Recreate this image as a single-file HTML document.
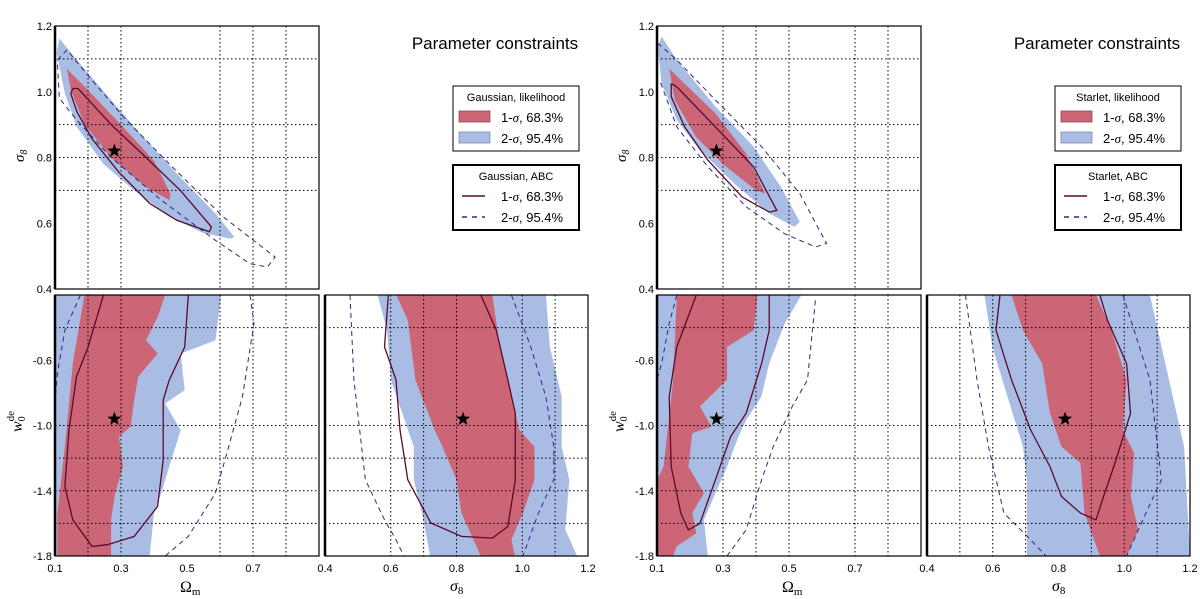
<!DOCTYPE html>
<html><head><meta charset="utf-8">
<style>
html,body{margin:0;padding:0;background:#fff;}
svg{display:block;font-family:"Liberation Sans",sans-serif;}
.tk{font-size:11px;fill:#000;}
</style></head>
<body>
<svg id="fig" width="1200" height="599" viewBox="0 0 1200 599" xmlns="http://www.w3.org/2000/svg"></svg>
<script>
// ---------- data (contours in data coordinates) ----------
// Gaussian, (Om, s8)
const gTopBlue=[[0.113,1.163],[0.166,1.097],[0.27,0.975],[0.376,0.853],[0.48,0.74],[0.586,0.63],[0.644,0.558],[0.632,0.553],[0.55,0.57],[0.446,0.62],[0.34,0.70],[0.247,0.78],[0.166,0.893],[0.13,0.995],[0.105,1.117]];
const gTopRed=[[0.136,1.07],[0.2,1.005],[0.306,0.893],[0.4,0.79],[0.45,0.69],[0.447,0.67],[0.376,0.71],[0.27,0.80],[0.19,0.90],[0.148,1.005]];
const gTopL1=[[0.154,1.01],[0.17,1.01],[0.27,0.90],[0.376,0.8],[0.48,0.70],[0.574,0.589],[0.568,0.574],[0.469,0.609],[0.387,0.66],[0.294,0.755],[0.212,0.857],[0.166,0.94],[0.148,0.994],[0.154,1.01]];
const gTopL2=[[0.107,1.097],[0.136,1.127],[0.212,1.035],[0.317,0.913],[0.457,0.77],[0.609,0.62],[0.767,0.497],[0.744,0.467],[0.691,0.477],[0.586,0.548],[0.422,0.67],[0.27,0.80],[0.166,0.914],[0.113,0.98],[0.107,1.097]];
// Gaussian, (Om, w)
const gBLBlue=[[0.1,-0.2],[0.604,-0.2],[0.586,-0.477],[0.481,-0.559],[0.493,-0.783],[0.434,-0.865],[0.481,-1.028],[0.446,-1.252],[0.422,-1.415],[0.4,-1.537],[0.387,-1.8],[0.1,-1.8]];
const gBLRed=[[0.189,-0.2],[0.434,-0.2],[0.411,-0.335],[0.376,-0.477],[0.411,-0.559],[0.352,-0.7],[0.34,-0.844],[0.329,-1.007],[0.294,-1.068],[0.306,-1.252],[0.282,-1.415],[0.27,-1.578],[0.27,-1.8],[0.107,-1.8],[0.107,-1.54],[0.13,-1.13],[0.154,-0.62]];
const gBLL1=[[0.247,-0.2],[0.2,-0.52],[0.165,-0.7],[0.142,-1.03],[0.13,-1.374],[0.154,-1.578],[0.212,-1.741],[0.259,-1.731],[0.34,-1.68],[0.411,-1.496],[0.428,-1.211],[0.428,-0.844],[0.446,-0.722],[0.493,-0.518],[0.504,-0.2]];
const gBLL2a=[[0.177,-0.2],[0.13,-0.416],[0.107,-0.681],[0.098,-0.9]];
const gBLL2b=[[0.691,-0.2],[0.703,-0.375],[0.668,-0.824],[0.621,-1.17],[0.586,-1.415],[0.504,-1.68],[0.434,-1.8]];
// Gaussian, (s8, w)
const gBRBlue=[[0.56,-0.2],[1.072,-0.2],[1.084,-0.518],[1.12,-0.824],[1.12,-1.13],[1.143,-1.333],[1.131,-1.639],[1.167,-1.8],[0.72,-1.8],[0.695,-1.537],[0.67,-1.333],[0.67,-1.13],[0.635,-0.925],[0.6,-0.72],[0.589,-0.416]];
const gBRRed=[[0.617,-0.2],[0.909,-0.2],[0.932,-0.518],[0.956,-0.72],[0.991,-1.027],[1.037,-1.13],[1.037,-1.333],[1.002,-1.537],[0.967,-1.7],[0.978,-1.8],[0.874,-1.8],[0.815,-1.537],[0.8,-1.333],[0.757,-1.13],[0.733,-1.027],[0.675,-0.72],[0.652,-0.355]];
const gBRL1=[[0.593,-0.2],[0.581,-0.518],[0.616,-0.72],[0.628,-1.027],[0.652,-1.333],[0.722,-1.598],[0.815,-1.68],[0.909,-1.69],[0.956,-1.619],[0.979,-1.333],[0.979,-0.925],[0.956,-0.72],[0.921,-0.416],[0.874,-0.2]];
const gBRL2a=[[0.476,-0.2],[0.488,-0.72],[0.523,-1.333],[0.581,-1.578],[0.616,-1.7],[0.64,-1.8]];
const gBRL2b=[[0.967,-0.2],[1.026,-0.518],[1.072,-0.824],[1.096,-1.13],[1.096,-1.333],[1.049,-1.537],[1.002,-1.8]];
// Starlet, (Om, s8)
const sTopBlue=[[0.114,1.168],[0.16,1.097],[0.277,0.955],[0.393,0.833],[0.475,0.711],[0.533,0.604],[0.516,0.589],[0.44,0.63],[0.335,0.72],[0.23,0.822],[0.16,0.914],[0.114,1.025],[0.102,1.137]];
const sTopRed=[[0.137,1.07],[0.277,0.934],[0.37,0.812],[0.428,0.69],[0.4,0.70],[0.3,0.78],[0.218,0.863],[0.154,0.975]];
const sTopL1=[[0.143,1.025],[0.16,1.015],[0.277,0.893],[0.393,0.771],[0.463,0.639],[0.44,0.634],[0.358,0.68],[0.254,0.792],[0.184,0.893],[0.143,0.985],[0.143,1.025]];
const sTopL2=[[0.102,1.148],[0.16,1.097],[0.277,0.975],[0.417,0.833],[0.533,0.69],[0.614,0.538],[0.58,0.528],[0.487,0.568],[0.37,0.65],[0.254,0.772],[0.16,0.893],[0.108,1.036]];
// Starlet, (Om, w)
const sBLBlue=[[0.1,-0.2],[0.538,-0.2],[0.487,-0.375],[0.44,-0.62],[0.416,-0.824],[0.37,-0.967],[0.347,-1.068],[0.312,-1.252],[0.277,-1.415],[0.242,-1.578],[0.254,-1.8],[0.1,-1.8]];
const sBLRed=[[0.16,-0.2],[0.405,-0.2],[0.393,-0.416],[0.312,-0.518],[0.312,-0.72],[0.23,-0.883],[0.265,-1.007],[0.207,-1.048],[0.195,-1.252],[0.242,-1.415],[0.207,-1.537],[0.219,-1.66],[0.16,-1.74],[0.149,-1.8],[0.102,-1.8],[0.102,-1.33],[0.12,-1.25],[0.149,-0.72]];
const sBLL1=[[0.219,-0.2],[0.16,-0.518],[0.137,-0.824],[0.143,-1.252],[0.172,-1.537],[0.195,-1.64],[0.23,-1.6],[0.277,-1.333],[0.323,-1.068],[0.37,-0.925],[0.417,-0.62],[0.44,-0.416],[0.44,-0.2]];
const sBLL2a=[[0.16,-0.2],[0.137,-0.375],[0.114,-0.62],[0.1,-0.72]];
const sBLL2b=[[0.58,-0.233],[0.556,-0.72],[0.51,-0.883],[0.452,-1.13],[0.417,-1.333],[0.37,-1.64],[0.312,-1.8]];
// Starlet, (s8, w)
const sBRBlue=[[0.575,-0.2],[1.078,-0.2],[1.136,-0.72],[1.182,-1.13],[1.193,-1.537],[1.2,-1.8],[0.704,-1.8],[0.704,-1.333],[0.692,-1.13],[0.645,-0.824],[0.599,-0.518]];
const sBRRed=[[0.657,-0.2],[0.914,-0.2],[0.961,-0.416],[1.007,-0.72],[0.996,-1.027],[1.03,-1.17],[1.02,-1.435],[1.042,-1.64],[1.007,-1.8],[0.926,-1.8],[0.879,-1.537],[0.867,-1.23],[0.809,-1.13],[0.774,-0.925],[0.75,-0.62],[0.692,-0.416]];
const sBRL1=[[0.622,-0.2],[0.61,-0.416],[0.657,-0.72],[0.715,-1.027],[0.774,-1.252],[0.809,-1.435],[0.867,-1.537],[0.914,-1.578],[0.937,-1.435],[0.972,-1.23],[1.019,-0.925],[1.007,-0.62],[0.949,-0.355],[0.926,-0.2]];
const sBRL2a=[[0.517,-0.2],[0.552,-0.72],[0.587,-1.13],[0.634,-1.537],[0.715,-1.7],[0.762,-1.8]];
const sBRL2b=[[0.996,-0.2],[1.078,-0.72],[1.113,-1.333],[1.066,-1.537],[1.007,-1.8]];
// fiducial
const fidOm=0.28, fidS8=0.82, fidW=-0.96;
// ticks
const topYTicks=[1.2,1.0,0.8,0.6,0.4];
const botYTicks=[-0.6,-1.0,-1.4,-1.8];
const omXTicks=[0.1,0.3,0.5,0.7];
const s8XTicks=[0.4,0.6,0.8,1.0,1.2];
const legendTitles=["Gaussian","Starlet"];

const NS="http://www.w3.org/2000/svg";
const svg=document.getElementById('fig');
function mk(tag,attrs,parent){const e=document.createElementNS(NS,tag);for(const k in attrs)e.setAttribute(k,attrs[k]);(parent||svg).appendChild(e);return e;}
const RED="#cc6677",BLUE="#a9bde4",L1C="#5a0a2e",L2C="#2b2b7f";
let clipId=0;
function panel(name,x0,x1,y0,y1,xd,yd,gx,gy,blue,red,l1,l2s,fx,fy,thickLeft){
  const sx=v=>x0+(v-xd[0])/(xd[1]-xd[0])*(x1-x0);
  const sy=v=>y1-(v-yd[0])/(yd[1]-yd[0])*(y1-y0);
  const g=mk('g',{});
  
  
  const cid='c'+(clipId++);
  const cp=mk('clipPath',{id:cid},g);mk('rect',{x:x0,y:y0,width:x1-x0,height:y1-y0},cp);
  const inner=mk('g',{'clip-path':'url(#'+cid+')'},g);
  const pts=a=>a.map(p=>sx(p[0]).toFixed(1)+','+sy(p[1]).toFixed(1)).join(' ');
  const b=mk('polygon',{points:pts(blue),fill:BLUE},inner);
  
  
  const r=mk('polygon',{points:pts(red),fill:RED},inner);
  
  
  gx.forEach(v=>{const l=mk('line',{x1:sx(v),x2:sx(v),y1:y0,y2:y1,stroke:'#000','stroke-width':1,'stroke-dasharray':'1.5,2.5'},inner);
    });
  gy.forEach(v=>{const l=mk('line',{x1:x0,x2:x1,y1:sy(v),y2:sy(v),stroke:'#000','stroke-width':1,'stroke-dasharray':'1.5,2.5'},inner);
    });
  const c1=mk('polyline',{points:pts(l1),fill:'none',stroke:L1C,'stroke-width':1.3},inner);
  
  
  l2s.forEach(a=>{const c2=mk('polyline',{points:pts(a),fill:'none',stroke:L2C,'stroke-width':1,'stroke-dasharray':'5,4'},inner);
    
    });
  // star
  const cx=sx(fx),cy=sy(fy);let sp=[];
  for(let i=0;i<10;i++){const a=-Math.PI/2+i*Math.PI/5,rr=i%2?3:7.5;sp.push((cx+rr*Math.cos(a)).toFixed(1)+','+(cy+rr*Math.sin(a)).toFixed(1));}
  const st=mk('polygon',{points:sp.join(' '),fill:'#000'},g);
  
  
  const fr=mk('rect',{x:x0,y:y0,width:x1-x0,height:y1-y0,fill:'none',stroke:'#000','stroke-width':1.2},g);
  
  
  if(thickLeft){const tl=mk('line',{x1:x0,x2:x0,y1:y0,y2:y1,stroke:'#000','stroke-width':2.5},g);
    }
  return {sx,sy};
}
function txt(s,x,y,attrs,name){const t=mk('text',Object.assign({x:x,y:y},attrs||{}));t.textContent=s;
  return t;}

[0,1].forEach(fi=>{
  const o=fi?602:0;
  const T=fi?[sTopBlue,sTopRed,sTopL1,[sTopL2]]:[gTopBlue,gTopRed,gTopL1,[gTopL2]];
  const BL=fi?[sBLBlue,sBLRed,sBLL1,[sBLL2a,sBLL2b]]:[gBLBlue,gBLRed,gBLL1,[gBLL2a,gBLL2b]];
  const BR=fi?[sBRBlue,sBRRed,sBRL1,[sBRL2a,sBRL2b]]:[gBRBlue,gBRRed,gBRL1,[gBRL2a,gBRL2b]];
  const gxOm=fi?[0.3,0.4,0.5,0.7,0.8]:[0.2,0.3,0.6,0.7,0.8];
  const gxS8=fi?[0.5,0.6,0.7,0.9,1.0,1.1]:[0.6,0.7,0.8,1.0,1.1];
  const top=panel('omega-sigma8-panel',55+o,319+o,26,289,[0.1,0.9],[0.4,1.2],gxOm,[1.1,0.9,0.8,0.7],T[0],T[1],T[2],T[3],fidOm,fidS8,true);
  const bl=panel('omega-w0-panel',55+o,319+o,295,556,[0.1,0.9],[-1.8,-0.2],gxOm,[-0.4,-1.0,-1.2,-1.4,-1.6],BL[0],BL[1],BL[2],BL[3],fidOm,fidW,true);
  const br=panel('sigma8-w0-panel',325+o,588+o,295,556,[0.4,1.2],[-1.8,-0.2],gxS8,[-0.4,-1.0,-1.2,-1.4,-1.6],BR[0],BR[1],BR[2],BR[3],fidS8,fidW,true);
  topYTicks.forEach(v=>txt(v.toFixed(1),52+o,top.sy(v)+4,{'text-anchor':'end',class:'tk'},'y-tick-label'));
  botYTicks.forEach(v=>txt(v.toFixed(1),52+o,bl.sy(v)+4,{'text-anchor':'end',class:'tk'},'y-tick-label'));
  omXTicks.forEach(v=>txt(v.toFixed(1),bl.sx(v),572,{'text-anchor':'middle',class:'tk'},'x-tick-label'));
  s8XTicks.forEach(v=>txt(v.toFixed(1),br.sx(v),572,{'text-anchor':'middle',class:'tk'},'x-tick-label'));
  // axis titles
  const a1=txt('σ',24+o,162,{'font-family':'Liberation Serif','font-style':'italic','font-size':15,transform:'rotate(-90 '+(24+o)+' 162)'},'y-axis-title-sigma8');
  mk('tspan',{'font-size':10,dy:3},a1).textContent='8';
  const a2=txt('w',22+o,432,{'font-family':'Liberation Serif','font-style':'italic','font-size':16,transform:'rotate(-90 '+(22+o)+' 432)'},'y-axis-title-w0de');
  mk('tspan',{'font-size':10,dy:3,'font-style':'normal'},a2).textContent='0';
  mk('tspan',{'font-size':11,dy:-11,dx:-5,'font-style':'normal'},a2).textContent='de';
  const a3=txt('Ω',180+o,592,{'font-family':'Liberation Serif','font-size':16},'x-axis-title-omega-m');
  mk('tspan',{'font-size':11,dy:3},a3).textContent='m';
  const a4=txt('σ',450+o,591,{'font-family':'Liberation Serif','font-style':'italic','font-size':16},'x-axis-title-sigma8');
  mk('tspan',{'font-size':11,dy:3,'font-style':'normal'},a4).textContent='8';
  txt('Parameter constraints',495+o,49,{'text-anchor':'middle','font-size':17},'figure-title');
  // legends
  const lx=453+o, nm=legendTitles[fi];
  const lg1=mk('rect',{x:lx,y:86,width:126,height:65,fill:'#fff',stroke:'#000','stroke-width':1});
  
  txt(nm+', likelihood',lx+63,101,{'text-anchor':'middle','font-size':11},'legend-title');
  mk('rect',{x:lx+6,y:111,width:31,height:11,fill:RED,stroke:'#8a4a55','stroke-width':0.8});
  mk('rect',{x:lx+6,y:132,width:31,height:11,fill:BLUE,stroke:'#7f8aa0','stroke-width':0.8});
  const e1=txt('1-',lx+48,122,{'font-size':13},'legend-entry-1sigma');mk('tspan',{'font-family':'Liberation Serif','font-style':'italic'},e1).textContent='σ';mk('tspan',{},e1).textContent=', 68.3%';
  const e2=txt('2-',lx+48,143,{'font-size':13},'legend-entry-2sigma');mk('tspan',{'font-family':'Liberation Serif','font-style':'italic'},e2).textContent='σ';mk('tspan',{},e2).textContent=', 95.4%';
  const lg2=mk('rect',{x:lx,y:165,width:126,height:65,fill:'#fff',stroke:'#000','stroke-width':2});
  
  txt(nm+', ABC',lx+63,180,{'text-anchor':'middle','font-size':11},'legend-title');
  mk('line',{x1:lx+9,x2:lx+32,y1:196,y2:196,stroke:L1C,'stroke-width':1.5});
  mk('line',{x1:lx+9,x2:lx+32,y1:217,y2:217,stroke:L2C,'stroke-width':1.5,'stroke-dasharray':'5,5'});
  const e3=txt('1-',lx+48,201,{'font-size':13},'legend-entry-1sigma-abc');mk('tspan',{'font-family':'Liberation Serif','font-style':'italic'},e3).textContent='σ';mk('tspan',{},e3).textContent=', 68.3%';
  const e4=txt('2-',lx+48,222,{'font-size':13},'legend-entry-2sigma-abc');mk('tspan',{'font-family':'Liberation Serif','font-style':'italic'},e4).textContent='σ';mk('tspan',{},e4).textContent=', 95.4%';
});
</script>
</body></html>
